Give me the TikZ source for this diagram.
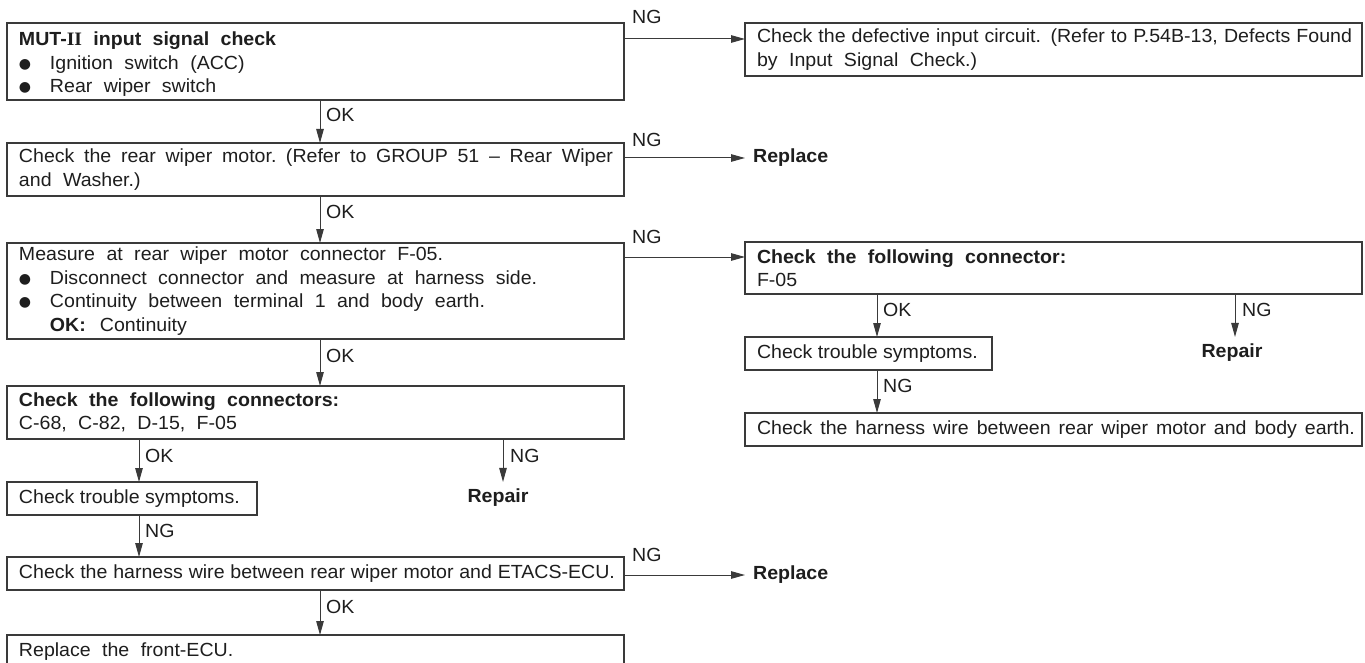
\documentclass[tikz,border=0pt]{standalone}
\usepackage{fontspec}
\setmainfont{Liberation Sans}[FakeStretch=1.03]
\newfontfamily\romfont{Liberation Serif}[FakeStretch=1.03]
\newfontfamily\dejavu{DejaVu Sans}
\usetikzlibrary{arrows.meta,calc}
\definecolor{ln}{HTML}{3A3A3A}
\definecolor{tx}{HTML}{1E1E1E}
\newcommand\fs{\fontsize{19pt}{23.5pt}\selectfont}
\newcommand\ws{\spaceskip=0.6em plus 0.2em minus 0.3em\relax}
\newcommand\blt{\makebox[31pt][l]{\raisebox{1pt}{\dejavu\fontsize{14pt}{14pt}\selectfont ●}}}
\newcommand\fit[2]{\makebox[#1][s]{\spaceskip=0.278em plus 0.6em minus 0.2em\relax #2}}
\newcommand\nsp[1]{\mbox{\spaceskip=0pt\relax #1}}
\begin{document}
\begin{tikzpicture}[x=1pt,y=-1pt,
  box/.style={draw=ln, line width=1.1pt, anchor=north west, inner xsep=12pt, inner ysep=0pt, outer sep=0pt, text=tx, font=\fs},
  lbox/.style={box, align=left},
  arr/.style={draw=ln, line width=1pt, -{Triangle[length=14pt,width=7.5pt]}},
  lab/.style={text=tx, font=\fs, inner sep=0pt, anchor=west},
  res/.style={text=tx, font=\fs\bfseries, inner sep=0pt},
]
\clip (0,0) rectangle (1365,663);
\fill[white] (0,0) rectangle (1365,663);

% left column
\node[lbox, text width=593pt, minimum height=77pt] (A) at (7,23)
  {\ws\rule{0pt}{19pt}\textbf{MUT-{\romfont II} input signal check}\\ \blt Ignition switch (ACC)\\ \blt Rear wiper switch};
\node[lbox, text width=593pt, minimum height=53pt] (C) at (7,143)
  {\fit{594pt}{Check the rear wiper motor. (Refer to GROUP 51 -- Rear Wiper}\\\ws and Washer.)};
\node[lbox, text width=593pt, minimum height=96pt] (D) at (7,243)
  {\ws Measure at rear wiper motor connector F-05.\\ \blt Disconnect connector and measure at harness side.\\ \blt Continuity between terminal 1 and body earth.\\ \hspace*{31pt}\textbf{OK:}\hspace{14pt}Continuity};
\node[lbox, text width=593pt, minimum height=53pt] (F) at (7,386)
  {\ws\textbf{Check the following connectors:}\\C-68, C-82, D-15, F-05};
\node[lbox, text width=226pt, minimum height=33pt] (T1) at (7,482) {\nsp{Check trouble symptoms.}};
\node[lbox, text width=593pt, minimum height=33pt] (H) at (7,557)
  {\fit{596pt}{Check the harness wire between rear wiper motor and ETACS-ECU.}};
\node[lbox, text width=593pt, minimum height=33pt] (G) at (7,635) {\ws Replace the front-ECU.};

% right column
\node[lbox, text width=593pt, minimum height=53pt] (B) at (745,23)
  {\fit{595pt}{Check the defective input circuit. (Refer to P.54B-13, Defects Found}\\\ws by Input Signal Check.)};
\node[res, anchor=west] (R1) at (753,158) {Replace};
\node[lbox, text width=593pt, minimum height=52pt] (E) at (745,242)
  {\ws\textbf{Check the following connector:}\\F-05};
\node[lbox, text width=223pt, minimum height=33pt] (T2) at (745,337) {\nsp{Check trouble symptoms.}};
\node[res] (P2) at (1232,353) {Repair};
\node[lbox, text width=593pt, minimum height=33pt] (BB) at (745,413)
  {\fit{598pt}{Check the harness wire between rear wiper motor and body earth.}};
\node[res] (P1) at (498,498) {Repair};
\node[res, anchor=west] (R2) at (753,575) {Replace};

% connectors
\draw[arr] ($(A.north east)+(0,16)$) coordinate (a1) -- (a1 -| B.west);
\node[lab] (ngA) at ($(A.north east)+(8,-6)$) {NG};
\draw[arr] ($(A.south west)+(313,0)$) coordinate (a2) -- (a2 |- C.north);
\node[lab] (okA) at ($(A.south west)+(319,15)$) {OK};

\draw[arr, shorten >=8pt] (C.east |- R1.west) -- (R1.west);
\node[lab] (ngC) at ($(C.north east)+(8,-3)$) {NG};
\draw[arr] ($(C.south west)+(313,0)$) coordinate (c2) -- (c2 |- D.north);
\node[lab] (okC) at ($(C.south west)+(319,16)$) {OK};

\draw[arr] ($(D.north east)+(0,14)$) coordinate (d1) -- (d1 -| E.west);
\node[lab] (ngD) at ($(D.north east)+(8,-6)$) {NG};
\draw[arr] ($(D.south west)+(313,0)$) coordinate (d2) -- (d2 |- F.north);
\node[lab] (okD) at ($(D.south west)+(319,17)$) {OK};

\draw[arr] ($(F.south west)+(132,0)$) coordinate (f1) -- (f1 |- T1.north);
\node[lab] (okF) at ($(F.south west)+(138,17)$) {OK};
\draw[arr, shorten >=7pt] ($(F.south west)+(496,0)$) coordinate (f2) -- (f2 |- P1.north);
\node[lab] (ngF) at ($(F.south west)+(503,17)$) {NG};

\draw[arr] ($(T1.south west)+(132,0)$) coordinate (t1) -- (t1 |- H.north);
\node[lab] (ngT1) at ($(T1.south west)+(138,16)$) {NG};

\draw[arr, shorten >=8pt] (H.east |- R2.west) -- (R2.west);
\node[lab] (ngH) at ($(H.north east)+(8,-2)$) {NG};
\draw[arr] ($(H.south west)+(313,0)$) coordinate (h2) -- (h2 |- G.north);
\node[lab] (okH) at ($(H.south west)+(319,17)$) {OK};

\draw[arr] ($(E.south west)+(132,0)$) coordinate (e1) -- (e1 |- T2.north);
\node[lab] (okE) at ($(E.south west)+(138,16)$) {OK};
\draw[arr, shorten >=7pt] ($(E.south west)+(490,0)$) coordinate (e2) -- (e2 |- P2.north);
\node[lab] (ngE) at ($(E.south west)+(497,16)$) {NG};

\draw[arr] ($(T2.south west)+(132,0)$) coordinate (t2) -- (t2 |- BB.north);
\node[lab] (ngT2) at ($(T2.south west)+(138,16)$) {NG};
\end{tikzpicture}
\end{document}
